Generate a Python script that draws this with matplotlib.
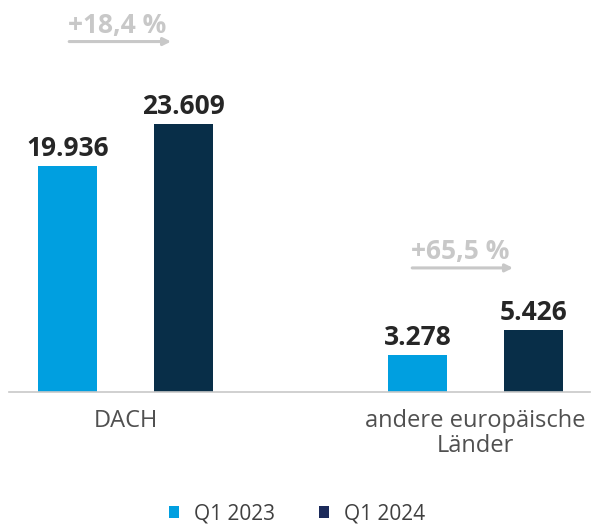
import matplotlib
matplotlib.use("Agg")
import matplotlib.pyplot as plt
from matplotlib.patches import Patch
import numpy as np

plt.rcParams['font.family'] = ['Open Sans', 'DejaVu Sans']

# ---- data ----
categories = ["DACH", "andere europäische\nLänder"]
series_names = ["Q1 2023", "Q1 2024"]
values_2023 = [19936, 3278]
values_2024 = [23609, 5426]

# ---- style / layout ----
bar_colors = ["#009FE0", "#082E48"]
legend_colors = ["#009FE0", "#1B2A5A"]
growth_color = "#C8C8C8"
arrow_x = [(-0.161, 0.130), (-0.181, 0.107)]   # offsets from group centre
arrow_y = [30870, 10930]

def fmt_de(v):
    return f"{v:,.0f}".replace(",", ".")

fig = plt.figure(figsize=(5.94, 5.27), dpi=100)
ax = fig.add_axes([9/594, 135/527, 581/594, 392/527])

x = np.arange(len(categories))
width = 0.169
offset = 0.166

for vals, col, sign in [(values_2023, bar_colors[0], -1), (values_2024, bar_colors[1], 1)]:
    bars = ax.bar(x + sign*offset, vals, width=width, color=col, zorder=2)
    for b, v in zip(bars, vals):
        ax.annotate(fmt_de(v), (b.get_x() + b.get_width()/2, v),
                    xytext=(0, 3), textcoords='offset points',
                    ha='center', va='bottom', fontsize=19, fontweight='bold',
                    color='#262626')

# growth annotations
for i in range(len(categories)):
    g = (values_2024[i] / values_2023[i] - 1) * 100
    label = f"+{g:.1f}".replace(".", ",") + " %"
    x0 = x[i] + arrow_x[i][0]
    x1 = x[i] + arrow_x[i][1]
    ax.annotate('', xy=(x1, arrow_y[i]), xytext=(x0, arrow_y[i]),
                arrowprops=dict(arrowstyle='-|>', color=growth_color, lw=2.2,
                                mutation_scale=11, shrinkA=0, shrinkB=0))
    ax.annotate(label, (x0, arrow_y[i]), xytext=(-1, 6.5), textcoords='offset points',
                ha='left', va='baseline', fontsize=19, fontweight='bold',
                color=growth_color)

ax.set_xlim(-0.333, 1.327)
ax.set_ylim(0, 34530)
for s in ['top', 'right', 'left']:
    ax.spines[s].set_visible(False)
ax.spines['bottom'].set_color('#C8C8C8')
ax.spines['bottom'].set_linewidth(1.2)
ax.set_yticks([])
ax.set_xticks(x)
ax.set_xticklabels(categories, fontsize=17, color='#505050', linespacing=1.05)
ax.tick_params(axis='x', length=0, pad=12)

handles = [Patch(facecolor=c, edgecolor='none') for c in legend_colors]
leg = fig.legend(handles, series_names, loc='lower center', ncol=2,
                 bbox_to_anchor=(0.5, -0.03), frameon=False, fontsize=15,
                 handlelength=0.5, handleheight=0.5, handletextpad=0.7,
                 columnspacing=2.1, labelcolor='#404040')

fig.savefig("out.png", dpi=100)
